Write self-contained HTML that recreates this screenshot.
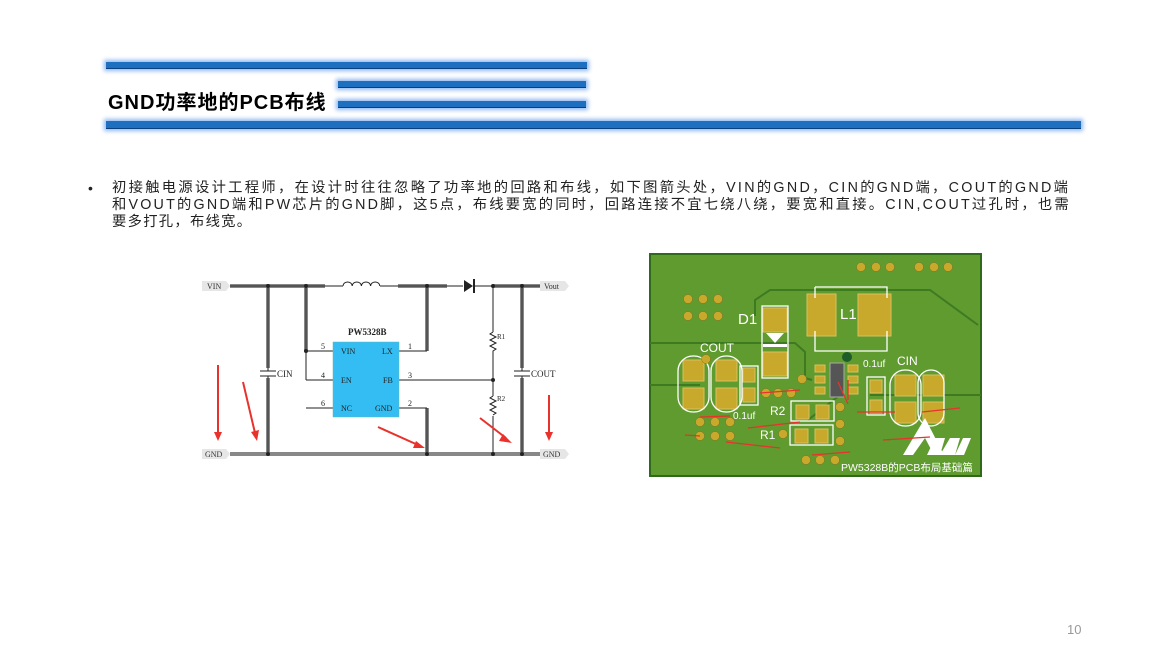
<!DOCTYPE html>
<html><head><meta charset="utf-8"><style>
body{margin:0;width:1173px;height:660px;background:#fff;overflow:hidden;position:relative;font-family:"Liberation Sans","Noto Sans CJK SC",sans-serif}
.bar{position:absolute;background:#1f6fc0;box-shadow:0 0 4px 2px #8fb8f0;border-bottom:1px solid #0a3f80}
.ln{white-space:nowrap;height:17px}
</style></head><body>
<div class="bar" style="left:106px;top:62px;width:481px;height:6px"></div>
<div class="bar" style="left:338px;top:81px;width:248px;height:6px"></div>
<div class="bar" style="left:338px;top:101px;width:248px;height:6px"></div>
<div class="bar" style="left:106px;top:121px;width:975px;height:7px"></div>
<div style="position:absolute;left:108px;top:86px;font-size:20px;font-weight:bold;color:#000;letter-spacing:1px">GND功率地的PCB布线</div>
<div style="position:absolute;left:88px;top:180px;font-size:14px;color:#222">•</div>
<div style="position:absolute;left:112px;top:180px;font-size:14.3px;line-height:17px;color:#222">
<div class="ln" style="letter-spacing:2.3px">初接触电源设计工程师，在设计时往往忽略了功率地的回路和布线，如下图箭头处，VIN的GND，CIN的GND端，COUT的GND端</div>
<div class="ln" style="letter-spacing:2.2px">和VOUT的GND端和PW芯片的GND脚，这5点，布线要宽的同时，回路连接不宜七绕八绕，要宽和直接。CIN,COUT过孔时，也需</div>
<div class="ln" style="letter-spacing:1.3px">要多打孔，布线宽。</div>
</div>
<div style="position:absolute;left:1067px;top:622px;font-size:13px;color:#999">10</div>

<svg style="position:absolute;left:0;top:0" width="1173" height="660">
<g font-family="Liberation Serif,serif" font-size="8" fill="#333">
<polygon points="202,281 226,281 230,286 226,291 202,291" fill="#e6e6e6"/><text x="207" y="289">VIN</text>
<polygon points="202,449 226,449 230,454 226,459 202,459" fill="#e6e6e6"/><text x="205" y="457">GND</text>
<polygon points="540,281 565,281 569,286 565,291 540,291" fill="#e6e6e6"/><text x="544" y="289">Vout</text>
<polygon points="540,449 565,449 569,454 565,459 540,459" fill="#e6e6e6"/><text x="543" y="457">GND</text>
</g>
<g stroke="#888" stroke-width="4" fill="none">
<line x1="230" y1="286" x2="325" y2="286"/><line x1="398" y1="286" x2="447" y2="286"/>
<line x1="268" y1="286" x2="268" y2="368"/><line x1="268" y1="378" x2="268" y2="454"/>
<line x1="306" y1="286" x2="306" y2="351"/><line x1="427" y1="286" x2="427" y2="351"/>
<line x1="427" y1="408" x2="427" y2="454"/><line x1="230" y1="454" x2="540" y2="454"/>
<line x1="522" y1="286" x2="522" y2="368"/><line x1="522" y1="378" x2="522" y2="454"/>
<line x1="493" y1="286" x2="540" y2="286"/>
</g>
<g stroke="#222" stroke-width="1" fill="none">
<line x1="230" y1="286" x2="343" y2="286"/><line x1="380" y1="286" x2="463" y2="286"/><line x1="475" y1="286" x2="540" y2="286"/>
<path d="M343,286 a4.6,4 0 0 1 9.2,0 a4.6,4 0 0 1 9.2,0 a4.6,4 0 0 1 9.2,0 a4.6,4 0 0 1 9.2,0"/>
<line x1="268" y1="286" x2="268" y2="371"/><line x1="268" y1="376" x2="268" y2="454"/>
<line x1="260" y1="371" x2="276" y2="371"/><line x1="260" y1="376" x2="276" y2="376"/>
<line x1="514" y1="371" x2="530" y2="371"/><line x1="514" y1="376" x2="530" y2="376"/>
<line x1="522" y1="286" x2="522" y2="371"/><line x1="522" y1="376" x2="522" y2="454"/>
<line x1="306" y1="286" x2="306" y2="380"/><line x1="306" y1="351" x2="333" y2="351"/><line x1="306" y1="380" x2="333" y2="380"/><line x1="306" y1="408" x2="333" y2="408"/>
<line x1="399" y1="351" x2="427" y2="351"/><line x1="427" y1="286" x2="427" y2="351"/>
<line x1="399" y1="380" x2="493" y2="380"/><line x1="399" y1="408" x2="427" y2="408"/><line x1="427" y1="408" x2="427" y2="454"/>
<line x1="493" y1="286" x2="493" y2="332"/><path d="M493,332 l-3,2 6,3 -6,3 6,3 -6,3 6,3 -3,2 v6"/>
<line x1="493" y1="354" x2="493" y2="396"/><path d="M493,396 l-3,2 6,3 -6,3 6,3 -6,3 6,3 -3,2"/>
<line x1="493" y1="416" x2="493" y2="454"/>
</g>
<polygon points="464,280 464,292 473,286" fill="#222"/><line x1="474" y1="279" x2="474" y2="293" stroke="#222" stroke-width="2"/>
<g fill="#222"><circle cx="268" cy="286" r="2"/><circle cx="306" cy="286" r="2"/><circle cx="427" cy="286" r="2"/><circle cx="493" cy="286" r="2"/><circle cx="522" cy="286" r="2"/><circle cx="306" cy="351" r="2"/><circle cx="493" cy="380" r="2"/><circle cx="268" cy="454" r="2"/><circle cx="427" cy="454" r="2"/><circle cx="493" cy="454" r="2"/><circle cx="522" cy="454" r="2"/></g>
<rect x="333" y="342" width="66" height="75" fill="#33bdf2" stroke="#6bb" stroke-width="0.5"/>
<g font-family="Liberation Serif,serif" font-size="8" fill="#222">
<text x="348" y="335" font-weight="bold" font-size="9">PW5328B</text>
<text x="341" y="354">VIN</text><text x="341" y="383">EN</text><text x="341" y="411">NC</text>
<text x="382" y="354">LX</text><text x="383" y="383">FB</text><text x="375" y="411">GND</text>
<text x="321" y="349">5</text><text x="321" y="378">4</text><text x="321" y="406">6</text>
<text x="408" y="349">1</text><text x="408" y="378">3</text><text x="408" y="406">2</text>
<text x="277" y="377" font-size="9">CIN</text><text x="531" y="377" font-size="9">COUT</text>
<text x="497" y="339" font-size="7">R1</text><text x="497" y="401" font-size="7">R2</text>
</g>
<g stroke="#e8322b" stroke-width="2" fill="#e8322b">
<line x1="218" y1="365" x2="218" y2="434"/><polygon points="214,432 222,432 218,441" stroke="none"/>
<line x1="243" y1="382" x2="255" y2="433"/><polygon points="251,432 259,430 257,441" stroke="none"/>
<line x1="378" y1="427" x2="418" y2="445"/><polygon points="416,441 413,448 425,448" stroke="none"/>
<line x1="480" y1="418" x2="506" y2="438"/><polygon points="503,434 499,441 512,443" stroke="none"/>
<line x1="549" y1="395" x2="549" y2="434"/><polygon points="545,432 553,432 549,441" stroke="none"/>
</g>

<!-- PCB -->
<rect x="650" y="254" width="331" height="222" fill="#5f9b2f" stroke="#2f6a1a" stroke-width="2"/>
<g stroke="#3e7a22" stroke-width="2" fill="none">
<path d="M650,343 H795 L805,352 V378 L812,380"/><path d="M650,385 H700"/>
<path d="M755,316 V300 L770,290 H930 L978,325"/><path d="M870,395 H981"/><path d="M808,420 L840,395"/>
</g>
<g fill="#c8a92c" stroke="#d8c060" stroke-width="1">
<rect x="807" y="294" width="29" height="42" /><rect x="858" y="294" width="33" height="42"/>
<rect x="763" y="308" width="24" height="24"/><rect x="763" y="352" width="24" height="24"/>
<rect x="683" y="360" width="21" height="21"/><rect x="683" y="388" width="21" height="21"/>
<rect x="716" y="360" width="21" height="21"/><rect x="716" y="388" width="21" height="21"/>
<rect x="743" y="368" width="12" height="14"/><rect x="743" y="388" width="12" height="14"/>
<rect x="895" y="375" width="21" height="21"/><rect x="895" y="402" width="21" height="21"/>
<rect x="923" y="375" width="21" height="21"/><rect x="923" y="402" width="21" height="21"/>
<rect x="870" y="380" width="12" height="13"/><rect x="870" y="400" width="12" height="13"/>
<rect x="796" y="405" width="13" height="14"/><rect x="816" y="405" width="13" height="14"/>
<rect x="795" y="429" width="13" height="14"/><rect x="815" y="429" width="13" height="14"/>
<rect x="815" y="365" width="10" height="7"/><rect x="815" y="376" width="10" height="7"/><rect x="815" y="387" width="10" height="7"/>
<rect x="848" y="365" width="10" height="7"/><rect x="848" y="376" width="10" height="7"/><rect x="848" y="387" width="10" height="7"/>
</g>
<g fill="none" stroke="#fff" stroke-width="1.3">
<path d="M815,287 H887 V298 M815,287 V298 M815,331 V351 H887 V331"/>
<rect x="762" y="306" width="26" height="72"/>
<rect x="678" y="356" width="31" height="56" rx="15"/><rect x="711" y="356" width="31" height="56" rx="15"/>
<rect x="740" y="366" width="18" height="39"/>
<rect x="890" y="370" width="31" height="56" rx="15"/><rect x="918" y="370" width="26" height="56" rx="13"/>
<rect x="867" y="377" width="18" height="38"/>
<rect x="791" y="401" width="43" height="20"/><rect x="790" y="425" width="43" height="20"/>
</g>
<polygon points="766,333 784,333 775,343" fill="#fff"/><rect x="763" y="344" width="24" height="3" fill="#fff"/>
<rect x="830" y="363" width="14" height="34" fill="#555" stroke="#aaa"/>
<g fill="#c8a92c" stroke="#8a7020" stroke-width="0.5">
<circle cx="861" cy="267" r="4.5"/><circle cx="876" cy="267" r="4.5"/><circle cx="890" cy="267" r="4.5"/>
<circle cx="919" cy="267" r="4.5"/><circle cx="934" cy="267" r="4.5"/><circle cx="948" cy="267" r="4.5"/>
<circle cx="688" cy="299" r="4.5"/><circle cx="703" cy="299" r="4.5"/><circle cx="718" cy="299" r="4.5"/>
<circle cx="688" cy="316" r="4.5"/><circle cx="703" cy="316" r="4.5"/><circle cx="718" cy="316" r="4.5"/>
<circle cx="700" cy="422" r="4.5"/><circle cx="715" cy="422" r="4.5"/><circle cx="730" cy="422" r="4.5"/>
<circle cx="700" cy="436" r="4.5"/><circle cx="715" cy="436" r="4.5"/><circle cx="730" cy="436" r="4.5"/>
<circle cx="806" cy="460" r="4.5"/><circle cx="820" cy="460" r="4.5"/><circle cx="835" cy="460" r="4.5"/>
<circle cx="840" cy="407" r="4.5"/><circle cx="840" cy="424" r="4.5"/><circle cx="840" cy="441" r="4.5"/>
<circle cx="766" cy="393" r="4.5"/><circle cx="778" cy="393" r="4.5"/><circle cx="791" cy="393" r="4.5"/>
<circle cx="802" cy="379" r="4.5"/><circle cx="706" cy="359" r="4.5"/><circle cx="783" cy="434" r="4.5"/>
</g>
<circle cx="847" cy="357" r="5" fill="#1d5d2a"/>
<g fill="#fff" font-family="Liberation Sans,sans-serif">
<text x="738" y="324" font-size="15">D1</text><text x="840" y="319" font-size="15">L1</text>
<text x="700" y="352" font-size="12">COUT</text><text x="897" y="365" font-size="12">CIN</text>
<text x="863" y="367" font-size="10">0.1uf</text><text x="733" y="419" font-size="10">0.1uf</text>
<text x="770" y="415" font-size="12">R2</text><text x="760" y="439" font-size="12">R1</text>
<text x="841" y="471" font-size="10.5" font-family="Liberation Sans,Noto Sans CJK SC,sans-serif">PW5328B的PCB布局基础篇</text>
<polygon points="903,455 925,418 944,455 934,455 925,438 913,455"/>
<polygon points="927,455 935,438 945,438 940,455 950,438 960,438 955,455 963,438 971,438 964,455"/>
</g>
<g stroke="#e8322b" stroke-width="1.3" fill="#e8322b">
<line x1="800" y1="390" x2="760" y2="393"/><line x1="800" y1="422" x2="748" y2="428"/>
<line x1="730" y1="416" x2="700" y2="417"/><line x1="700" y1="436" x2="685" y2="435"/><line x1="780" y1="448" x2="726" y2="442"/>
<line x1="850" y1="452" x2="812" y2="455"/><line x1="895" y1="412" x2="857" y2="412"/>
<line x1="960" y1="408" x2="922" y2="412"/><line x1="930" y1="437" x2="883" y2="440"/>
<line x1="848" y1="404" x2="838" y2="382"/><line x1="848" y1="380" x2="848" y2="400"/>
</g>
</svg>
</body></html>
